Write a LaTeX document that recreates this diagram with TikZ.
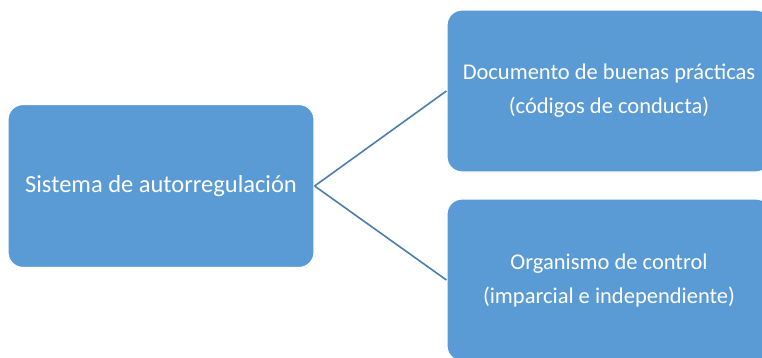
\documentclass[tikz,border=0pt]{standalone}
\usepackage{fontspec}
\setmainfont{Carlito}
\usetikzlibrary{positioning}
\definecolor{boxblue}{HTML}{5B9BD5}
\definecolor{linkblue}{HTML}{4A7EAD}
\tikzset{%
box/.style={rectangle,rounded corners=15pt,fill=boxblue,draw=white,line width=1.2pt,
  text=white,align=center,inner sep=0pt},
left box/.style={box,minimum width=306pt,minimum height=163pt,font=\fontsize{24.5}{34}\selectfont},
right box/.style={box,minimum width=324pt,minimum height=162pt,font=\fontsize{22.5}{34}\selectfont},
link/.style={draw=linkblue,line width=1.6pt}
}

\begin{document}
\begin{tikzpicture}[x=1pt,y=-1pt]
\useasboundingbox (0,0) rectangle (762,357);
\clip (0,0) rectangle (762,357);
\node[left box] (sistema) at (161,186) {Sistema de autorregulación};
\node[right box] (documento) at (609,91) {Documento de buenas prácticas\\(códigos de conducta)};
\node[right box] (organismo) at (609,280) {Organismo de control\\(imparcial e independiente)};
\draw[link] (sistema.east) -- (documento.west);
\draw[link] (sistema.east) -- (organismo.west);
\end{tikzpicture}
\end{document}
